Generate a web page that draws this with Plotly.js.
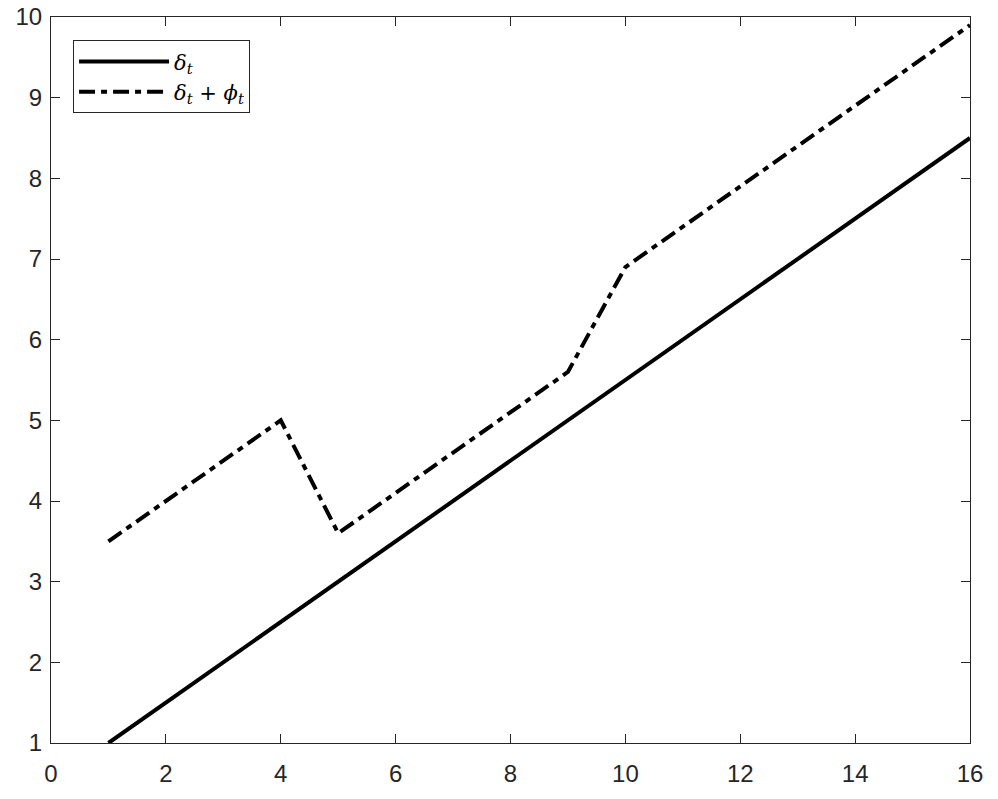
<!DOCTYPE html>
<html>
<head>
<meta charset="utf-8">
<script src="https://cdn.plot.ly/plotly-3.0.1.min.js"></script>
<style>
  html, body { margin: 0; padding: 0; background: #fff; }
  #plot { width: 998px; height: 799px; }
</style>
</head>
<body>
<div id="plot"></div>
<script>
const periods = [1, 2, 3, 4, 5, 6, 7, 8, 9, 10, 11, 12, 13, 14, 15, 16];
const delta = [1, 1.5, 2, 2.5, 3, 3.5, 4, 4.5, 5, 5.5, 6, 6.5, 7, 7.5, 8, 8.5];
const deltaPlusPhi = [3.5, 4, 4.5, 5, 3.6, 4.1, 4.6, 5.1, 5.6, 6.9, 7.4, 7.9, 8.4, 8.9, 9.4, 9.9];
const seriesNames = ["<i>δ<sub>t</sub></i>", "<i>δ<sub>t</sub></i> + <i>ϕ<sub>t</sub></i>"];
const xTicks = [0, 2, 4, 6, 8, 10, 12, 14, 16];
const yTicks = [1, 2, 3, 4, 5, 6, 7, 8, 9, 10];

const axisColor = "#262626";

const traces = [
    {
        x: periods,
        y: delta,
        type: "scatter",
        mode: "lines",
        name: seriesNames[0],
        line: { color: "#000", width: 4 }
    },
    {
        x: periods,
        y: deltaPlusPhi,
        type: "scatter",
        mode: "lines",
        name: seriesNames[1],
        line: { color: "#000", width: 4, dash: "16px,6px,6px,6px" }
    }
];

const axisCommon = {
    showgrid: false,
    zeroline: false,
    showline: true,
    mirror: "ticks",
    linecolor: axisColor,
    linewidth: 1,
    ticks: "inside",
    ticklen: 9,
    tickcolor: axisColor,
    tickwidth: 1,
    tickfont: { family: "Liberation Sans", size: 24, color: axisColor }
};

const layout = {
    width: 998,
    height: 799,
    margin: { l: 51, r: 28, t: 17, b: 56 },
    paper_bgcolor: "#fff",
    plot_bgcolor: "#fff",
    xaxis: Object.assign({}, axisCommon, {
        range: [0, 16],
        tickvals: xTicks,
        ticklabelstandoff: 9
    }),
    yaxis: Object.assign({}, axisCommon, {
        range: [1, 10],
        tickvals: yTicks,
        ticklabelstandoff: 3
    }),
    showlegend: true,
    legend: {
        x: 0.024,
        y: 0.968,
        xanchor: "left",
        yanchor: "top",
        bgcolor: "#fff",
        bordercolor: axisColor,
        borderwidth: 1,
        itemwidth: 90,
        font: { family: "DejaVu Serif", size: 21, color: "#000" },
        tracegroupgap: 0
    }
};

Plotly.newPlot("plot", traces, layout, { displayModeBar: false, staticPlot: true });
</script>
</body>
</html>
